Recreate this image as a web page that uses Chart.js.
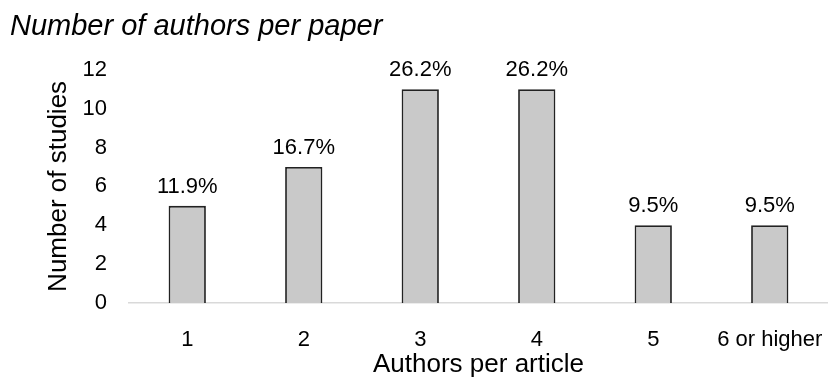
<!DOCTYPE html>
<html>
<head>
<meta charset="utf-8">
<script src="https://cdn.jsdelivr.net/npm/chart.js@4"></script>
<style>
  html, body { margin: 0; padding: 0; background: #fff; }
  #wrap { width: 828px; height: 380px; }
</style>
</head>
<body>
<div id="wrap"><canvas id="chart"></canvas></div>
<script>
// данные с картинки
const categories = ['1', '2', '3', '4', '5', '6 or higher'];
const studies = [5, 7, 11, 11, 4, 4];
const percentLabels = ['11.9%', '16.7%', '26.2%', '26.2%', '9.5%', '9.5%'];

const fontFamily = "'Liberation Sans', Arial, sans-serif";

// подписи над столбцами
const barLabels = {
    id: 'barLabels',
    afterDatasetsDraw(chart) {
        const ctx = chart.ctx;
        const meta = chart.getDatasetMeta(0);
        ctx.save();
        ctx.font = `22px ${fontFamily}`;
        ctx.fillStyle = '#000';
        ctx.textAlign = 'center';
        ctx.textBaseline = 'alphabetic';
        meta.data.forEach((bar, i) => {
            ctx.fillText(percentLabels[i], bar.x, bar.y - 13);
        });
        ctx.restore();
    }
};

const ctx = document.getElementById('chart').getContext('2d');
const myChart = new Chart(ctx, {
    type: 'bar',
    data: {
        labels: categories,
        datasets: [{
            label: 'Number of studies',
            data: studies,
            backgroundColor: '#c9c9c9',
            borderColor: '#222',
            borderWidth: 1.8,
            borderSkipped: 'bottom',
            barPercentage: 0.32,
            categoryPercentage: 1
        }]
    },
    options: {
        responsive: true,
        maintainAspectRatio: false,
        animation: false,
        layout: { padding: { left: 10, right: 0, top: 0, bottom: 2 } },
        plugins: {
            legend: { display: false },
            tooltip: { enabled: false },
            title: {
                display: true,
                text: 'Number of authors per paper',
                align: 'start',
                color: '#000',
                font: { family: fontFamily, size: 29, style: 'italic', weight: 'normal', lineHeight: 1.2 },
                padding: { top: 10, bottom: 25 }
            }
        },
        scales: {
            x: {
                grid: { display: false, drawTicks: false },
                border: { display: true, color: '#d9d9d9', width: 1.5 },
                ticks: { color: '#000', font: { family: fontFamily, size: 22, lineHeight: 1 }, padding: 26, maxRotation: 0 },
                title: {
                    display: true,
                    text: 'Authors per article',
                    color: '#000',
                    font: { family: fontFamily, size: 26, lineHeight: 1 },
                    padding: { top: 0, bottom: 0 }
                },
                afterFit(scale) {
                    // подгонка высоты оси и отступов под оригинал
                    scale.height = 75;
                    scale.paddingLeft = 0;
                    scale.paddingRight = 0;
                }
            },
            y: {
                min: 0,
                max: 12,
                grid: { display: false, drawTicks: false },
                border: { display: false },
                ticks: { stepSize: 2, color: '#000', font: { family: fontFamily, size: 22, lineHeight: 1 }, padding: 22 },
                title: {
                    display: true,
                    text: 'Number of studies',
                    color: '#000',
                    font: { family: fontFamily, size: 26, lineHeight: 1 },
                    padding: { top: 36, bottom: 0 }
                },
                afterFit(scale) {
                    scale.width = 119;
                }
            }
        }
    },
    plugins: [barLabels]
});
</script>
</body>
</html>
